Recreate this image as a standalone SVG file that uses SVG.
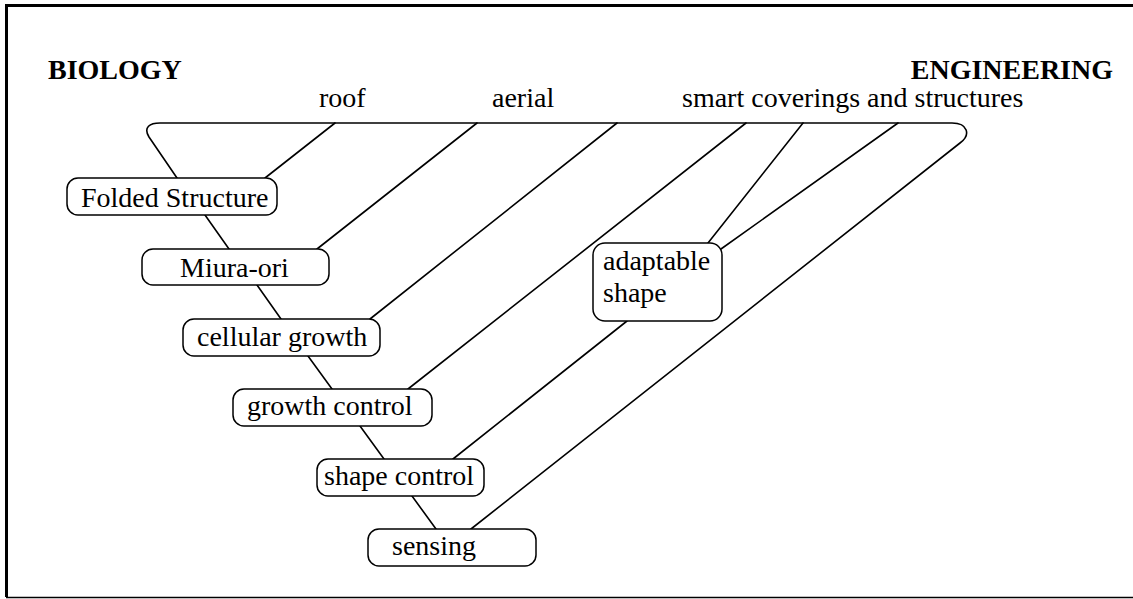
<svg xmlns="http://www.w3.org/2000/svg" width="1133" height="599" viewBox="0 0 1133 599">
<style>
.t{font-family:"Liberation Serif","Times New Roman",serif;font-size:28px;fill:#000}
.b{font-weight:bold}
.box{fill:#fff;stroke:#000;stroke-width:1.5}
.ln{fill:none;stroke:#000;stroke-width:1.6;stroke-linecap:round;stroke-linejoin:round}
</style>
<rect width="1133" height="599" fill="#fff"/>
<path d="M1133 5.5 H6.5 V597" fill="none" stroke="#000" stroke-width="3"/>
<path d="M6 597.5 H1133" fill="none" stroke="#000" stroke-width="1.5"/>
<text class="t b" x="48" y="79">BIOLOGY</text>
<text class="t b" x="1113" y="79" text-anchor="end">ENGINEERING</text>
<text class="t" x="319" y="107">roof</text>
<text class="t" x="492" y="107">aerial</text>
<text class="t" x="682" y="107">smart coverings and structures</text>
<g id="connectors">
<path class="ln" d="M177 178 L149 137 C143 127 150 123 160 123 H952 C968 123 971 135 960 143 L471 529"/>
<path class="ln" d="M335 123 L265 178"/>
<path class="ln" d="M477 123 L317 249"/>
<path class="ln" d="M617 123 L370 319"/>
<path class="ln" d="M746 123 L408 389"/>
<path class="ln" d="M803 123 L708 243"/>
<path class="ln" d="M898 123 L721 249"/>
<path class="ln" d="M627 321 L453 459"/>
<path class="ln" d="M205 215 L229 249"/>
<path class="ln" d="M257 285 L281 319"/>
<path class="ln" d="M308 356 L332 389"/>
<path class="ln" d="M360 426 L384 459"/>
<path class="ln" d="M412 496 L436 529"/>
</g>
<g id="folded-structure"><rect class="box" x="67" y="178" width="210" height="37" rx="11"/><text class="t" x="81" y="207">Folded Structure</text></g>
<g id="miura-ori"><rect class="box" x="142" y="249" width="187" height="36" rx="11"/><text class="t" x="180" y="277">Miura-ori</text></g>
<g id="cellular-growth"><rect class="box" x="183" y="319" width="197" height="37" rx="11"/><text class="t" x="197" y="346">cellular growth</text></g>
<g id="growth-control"><rect class="box" x="233" y="389" width="199" height="37" rx="11"/><text class="t" x="247" y="415">growth control</text></g>
<g id="shape-control"><rect class="box" x="317" y="459" width="167" height="37" rx="11"/><text class="t" x="324" y="485">shape control</text></g>
<g id="sensing"><rect class="box" x="368" y="529" width="168" height="37" rx="11"/><text class="t" x="392" y="555">sensing</text></g>
<g id="adaptable-shape"><rect class="box" x="593" y="243" width="129" height="78" rx="12"/><text class="t" x="603" y="270">adaptable</text><text class="t" x="603" y="302">shape</text></g>
</svg>
